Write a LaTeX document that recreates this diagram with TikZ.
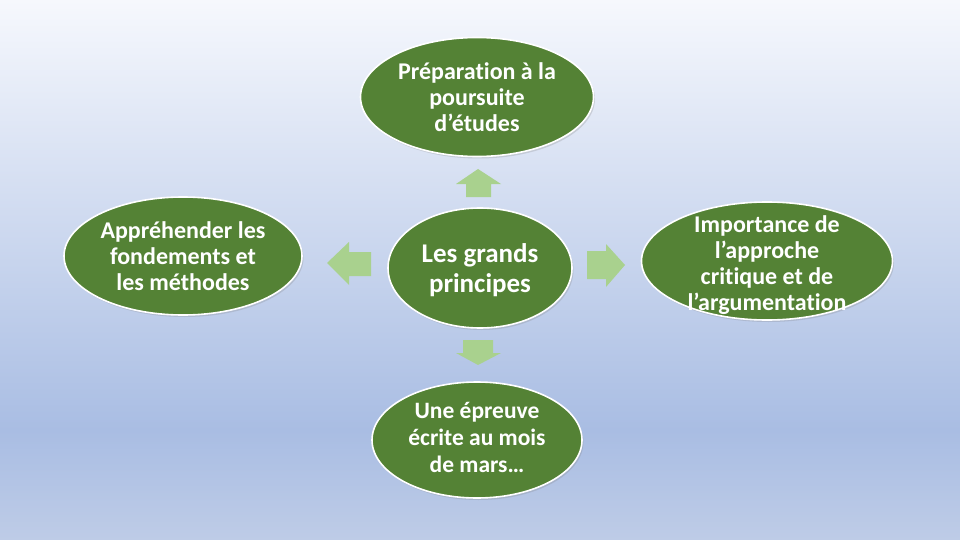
\documentclass[tikz,border=0pt]{standalone}
\usepackage{fontspec}
\setmainfont{Carlito}[Ligatures={NoCommon}]
\usetikzlibrary{shapes.geometric,shadows}
\definecolor{bgtop}{HTML}{F6F8FD}
\definecolor{bgmid}{HTML}{A9BDE3}
\definecolor{bgbot}{HTML}{BECCE7}
\definecolor{leaf}{HTML}{548235}
\definecolor{arrowgreen}{HTML}{A9D18E}
\tikzset{
  bubble/.style={ellipse, fill=leaf, draw=white, line width=1.6pt, inner sep=0pt,
    drop shadow={opacity=0.25, shadow xshift=1.5pt, shadow yshift=-2pt}},
  btext/.style={inner sep=0pt, text=white, align=center,
    font=\bfseries\fontsize{24}{26}\selectfont},
  arrowshape/.style={fill=arrowgreen, draw=none}
}
\begin{document}
\begin{tikzpicture}[x=1pt,y=-1pt]
\useasboundingbox (0,0) rectangle (960,540);
\shade[top color=bgtop, bottom color=bgmid] (0,0) rectangle (960,430);
\shade[top color=bgmid, bottom color=bgbot] (0,430) rectangle (960,540);
% bubbles
\node[bubble, minimum width=233, minimum height=119] (top) at (477,97) {};
\node[bubble, minimum width=184, minimum height=120] (center) at (480,268) {};
\node[bubble, minimum width=238, minimum height=118] (left) at (183,256) {};
\node[bubble, minimum width=251, minimum height=118] (right) at (767,261) {};
\node[bubble, minimum width=210, minimum height=116] (bottom) at (477,440) {};
% texts
\node[btext] (toptext) at (477,97) {Préparation à la\\poursuite\\d’études};
\node[btext, font=\bfseries\fontsize{27}{30}\selectfont] (centertext) at (480,270) {Les grands\\principes};
\node[btext] (lefttext) at (183,256) {Appréhender les\\fondements et\\les méthodes};
\node[btext] (righttext) at (767,265.5) {Importance de\\l’approche\\critique et de\\l’argumentation};
\node[btext, font=\bfseries\fontsize{23.5}{27}\selectfont] (bottomtext) at (477,437) {Une épreuve\\écrite au mois\\de mars…};
% arrows
\fill[arrowshape] (478,169) -- (501,184) -- (491,184) -- (491,197) -- (466,197) -- (466,184) -- (456,184) -- cycle;
\fill[arrowshape] (327,263) -- (349,242) -- (349,252) -- (371,252) -- (371,276) -- (349,276) -- (349,285) -- cycle;
\fill[arrowshape] (625,265) -- (606,244) -- (606,251) -- (587,251) -- (587,279) -- (606,279) -- (606,287) -- cycle;
\fill[arrowshape] (478,365) -- (501,353) -- (493,353) -- (493,340) -- (463,340) -- (463,353) -- (456,353) -- cycle;
\end{tikzpicture}
\end{document}
